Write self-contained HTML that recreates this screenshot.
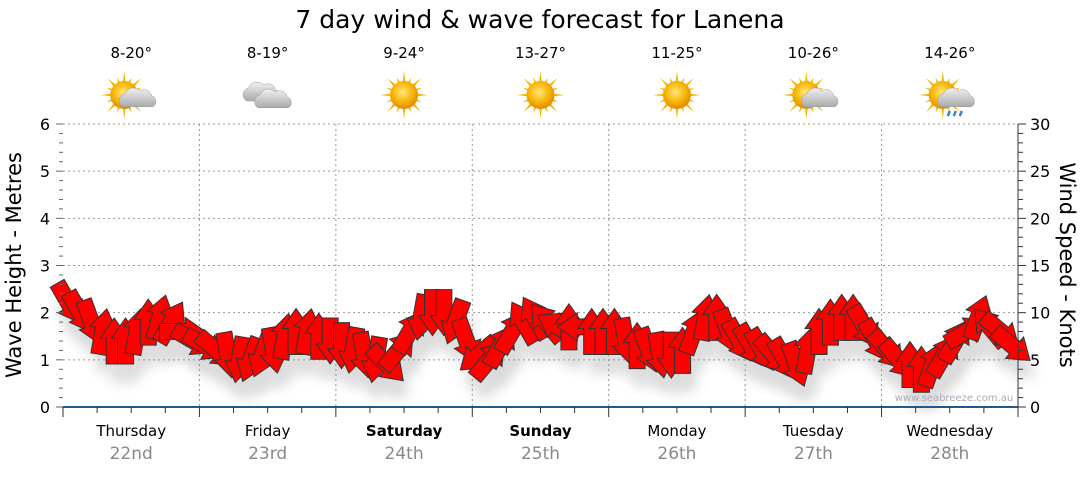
<!DOCTYPE html>
<html><head><meta charset="utf-8"><style>
body{margin:0;background:#fff;font-family:"Liberation Sans","DejaVu Sans",sans-serif}
svg text{font-family:"DejaVu Sans","Liberation Sans",sans-serif}
</style></head><body>
<svg id="c" width="1080" height="475" xmlns="http://www.w3.org/2000/svg">
<defs>
<filter id="sh" x="-50%" y="-50%" width="200%" height="200%"><feGaussianBlur stdDeviation="6"/></filter>
<radialGradient id="sun" cx="45%" cy="40%" r="60%"><stop offset="0" stop-color="#ffe680"/><stop offset="0.6" stop-color="#f7b500"/><stop offset="1" stop-color="#e08a00"/></radialGradient>
<linearGradient id="cl" x1="0" y1="0" x2="0" y2="1"><stop offset="0" stop-color="#f2f2f2"/><stop offset="1" stop-color="#a9a9a9"/></linearGradient>
</defs>
<text x="540" y="28" font-size="25" text-anchor="middle" fill="#000">7 day wind &amp; wave forecast for Lanena</text>
<g id="grid"></g>
<g id="shadows" opacity="0.3"></g>
<g id="arrows"></g>
<g id="axes"></g>
<g id="top"></g>
<text x="954" y="401" font-size="10" fill="#aab" text-anchor="middle">www.seabreeze.com.au</text>
<text transform="translate(21,265) rotate(-90)" font-size="21" text-anchor="middle">Wave Height - Metres</text>
<text transform="translate(1060,265) rotate(90)" font-size="21" text-anchor="middle">Wind Speed - Knots</text>
</svg>
<script>
const days=["Thursday","Friday","Saturday","Sunday","Monday","Tuesday","Wednesday"];
const dates=["22nd","23rd","24th","25th","26th","27th","28th"];
const temps=["8-20°","8-19°","9-24°","13-27°","11-25°","10-26°","14-26°"];
const icons=["partsun","cloud","sun","sun","sun","partsun","rain"];
const boldDays=[false,false,true,true,false,false,false];
const waveTicks=[0,1,2,3,4,5,6];
const windTicks=[0,5,10,15,20,25,30];
const windSpeed=[11,10,9,8,7,7,8,9,9.5,9,8,7,
 6.5,6,5.5,5,5,5.5,6,7.5,8,8,7.5,7,
 6.5,6,5.5,5,4.5,6,8,9.5,10,10,9,7,
 5.5,5,6.5,8,9,9.5,9,8.5,8.5,8.5,8,8,
 8,7,6.5,6,5.5,5.5,6,8,9.5,9.5,8,7,
 6.5,6,5.5,5,4.5,6,8,9,9.5,9.5,8.5,7,
 6,5,4.5,4,4.5,5.5,7,8,9.5,8.5,8,6.5];
const windDir=[150,150,160,10,0,0,10,0,15,30,90,120,
 120,130,170,190,200,200,170,10,0,10,0,180,
 180,190,170,190,135,40,30,190,180,180,200,160,
 230,40,30,30,330,330,320,300,0,270,0,0,
 0,170,0,160,170,180,0,20,10,0,160,150,
 150,150,140,150,160,10,0,0,0,0,150,150,
 140,140,0,0,20,30,30,60,20,320,130,130];
const X0=63,X1=1018,Y0=407,Y1=124;
const NS="http://www.w3.org/2000/svg";
const dw=(X1-X0)/7;
const perDay=windSpeed.length/7;
function xT(t){return X0+t*dw;}
function yW(m){return Y0-(m/6)*(Y0-Y1);}
function yK(k){return Y0-(k/30)*(Y0-Y1);}
function mk(tag,attrs,parent){const e=document.createElementNS(NS,tag);for(const k in attrs)e.setAttribute(k,attrs[k]);parent.appendChild(e);return e;}
const grid=document.getElementById('grid'),axes=document.getElementById('axes'),top_=document.getElementById('top');
waveTicks.forEach(v=>{if(v>0){const l=mk('line',{x1:X0,x2:X1,y1:yW(v),y2:yW(v),stroke:'#999','stroke-dasharray':'2,3','stroke-width':1},grid);

}
const t=mk('text',{x:X0-13,y:yW(v)+6,'font-size':16,'text-anchor':'end'},axes);t.textContent=v;

});
for(let i=0;i<=30;i++){const y=Y0-i*(Y0-Y1)/30;mk('line',{x1:X0-(i%5?4:7),x2:X0,y1:y,y2:y,stroke:'#666'},axes);mk('line',{x1:X1,x2:X1+(i%5?5:8),y1:y,y2:y,stroke:'#333'},axes);}
mk('line',{x1:X1,x2:X1,y1:Y1,y2:Y0,stroke:'#333'},axes);
windTicks.forEach(v=>{const t=mk('text',{x:X1+12,y:yK(v)+6,'font-size':16},axes);t.textContent=v;

});
for(let d=1;d<7;d++){const l=mk('line',{x1:xT(d),x2:xT(d),y1:Y1,y2:Y0,stroke:'#999','stroke-dasharray':'2,3'},grid);

}
mk('line',{x1:X0,x2:X1,y1:Y0,y2:Y0,stroke:'#1f5a8a','stroke-width':2},axes);
for(let q=0;q<=28;q++){const x=xT(q/4);mk('line',{x1:x,x2:x,y1:Y0,y2:Y0+(q%4?6:10),stroke:'#333'},axes);}
days.forEach((d,i)=>{const cx=xT(i+0.5);
const t=mk('text',{x:cx,y:436,'font-size':15,'text-anchor':'middle','font-weight':boldDays[i]?'bold':'normal'},axes);t.textContent=d;


const t2=mk('text',{x:cx,y:459,'font-size':17,'text-anchor':'middle',fill:'#888'},axes);t2.textContent=dates[i];


const t3=mk('text',{x:cx,y:58,'font-size':15,'text-anchor':'middle'},top_);t3.textContent=temps[i];


const g=mk('g',{transform:`translate(${cx},95)`},top_);


const ic=icons[i];
if(ic!=='cloud'){const sx=ic==='sun'?0:-7;for(let r=0;r<16;r++){const a=r*Math.PI/8;const L=r%2?19:24;mk('polygon',{points:`${sx+Math.cos(a-0.12)*12},${Math.sin(a-0.12)*12} ${sx+Math.cos(a)*L},${Math.sin(a)*L} ${sx+Math.cos(a+0.12)*12},${Math.sin(a+0.12)*12}`,fill:'#f4b400'},g);}
mk('circle',{cx:sx,cy:0,r:14,fill:'url(#sun)'},g);}
function cloud(ox,oy,s){mk('path',{d:`M${ox-15*s},${oy+8*s} a7,7 0 0 1 2,-13 a9,9 0 0 1 15,-3 a8,8 0 0 1 12,5 a6,6 0 0 1 1,11 z`,fill:'url(#cl)',stroke:'#999','stroke-width':0.5},g);}
if(ic==='partsun'||ic==='rain'){cloud(8,3,1.1);}
if(ic==='rain'){[0,6,12].forEach(dx=>mk('path',{d:`M${dx},16 l-2,5`,stroke:'#3a7fd0','stroke-width':2.5},g));}
if(ic==='cloud'){cloud(-6,-2,1);cloud(7,4,1.1);}
});
const arrows=document.getElementById('arrows'),shadows=document.getElementById('shadows');
const shape="M0,-23 L14,-3 L8,-3 L8,23 L-8,23 L-8,-3 L-14,-3 Z";
windSpeed.forEach((k,i)=>{const x=xT((i+0.5)/perDay),y=yK(k);
const s=mk('path',{d:shape,fill:'#888',filter:'url(#sh)',transform:`translate(${x+5},${y+18}) rotate(${windDir[i]})`},shadows);


const a=mk('path',{d:shape,fill:'#ff0000',stroke:'#333','stroke-width':1,transform:`translate(${x},${y}) rotate(${windDir[i]})`},arrows);

});
</script>
</body></html>
